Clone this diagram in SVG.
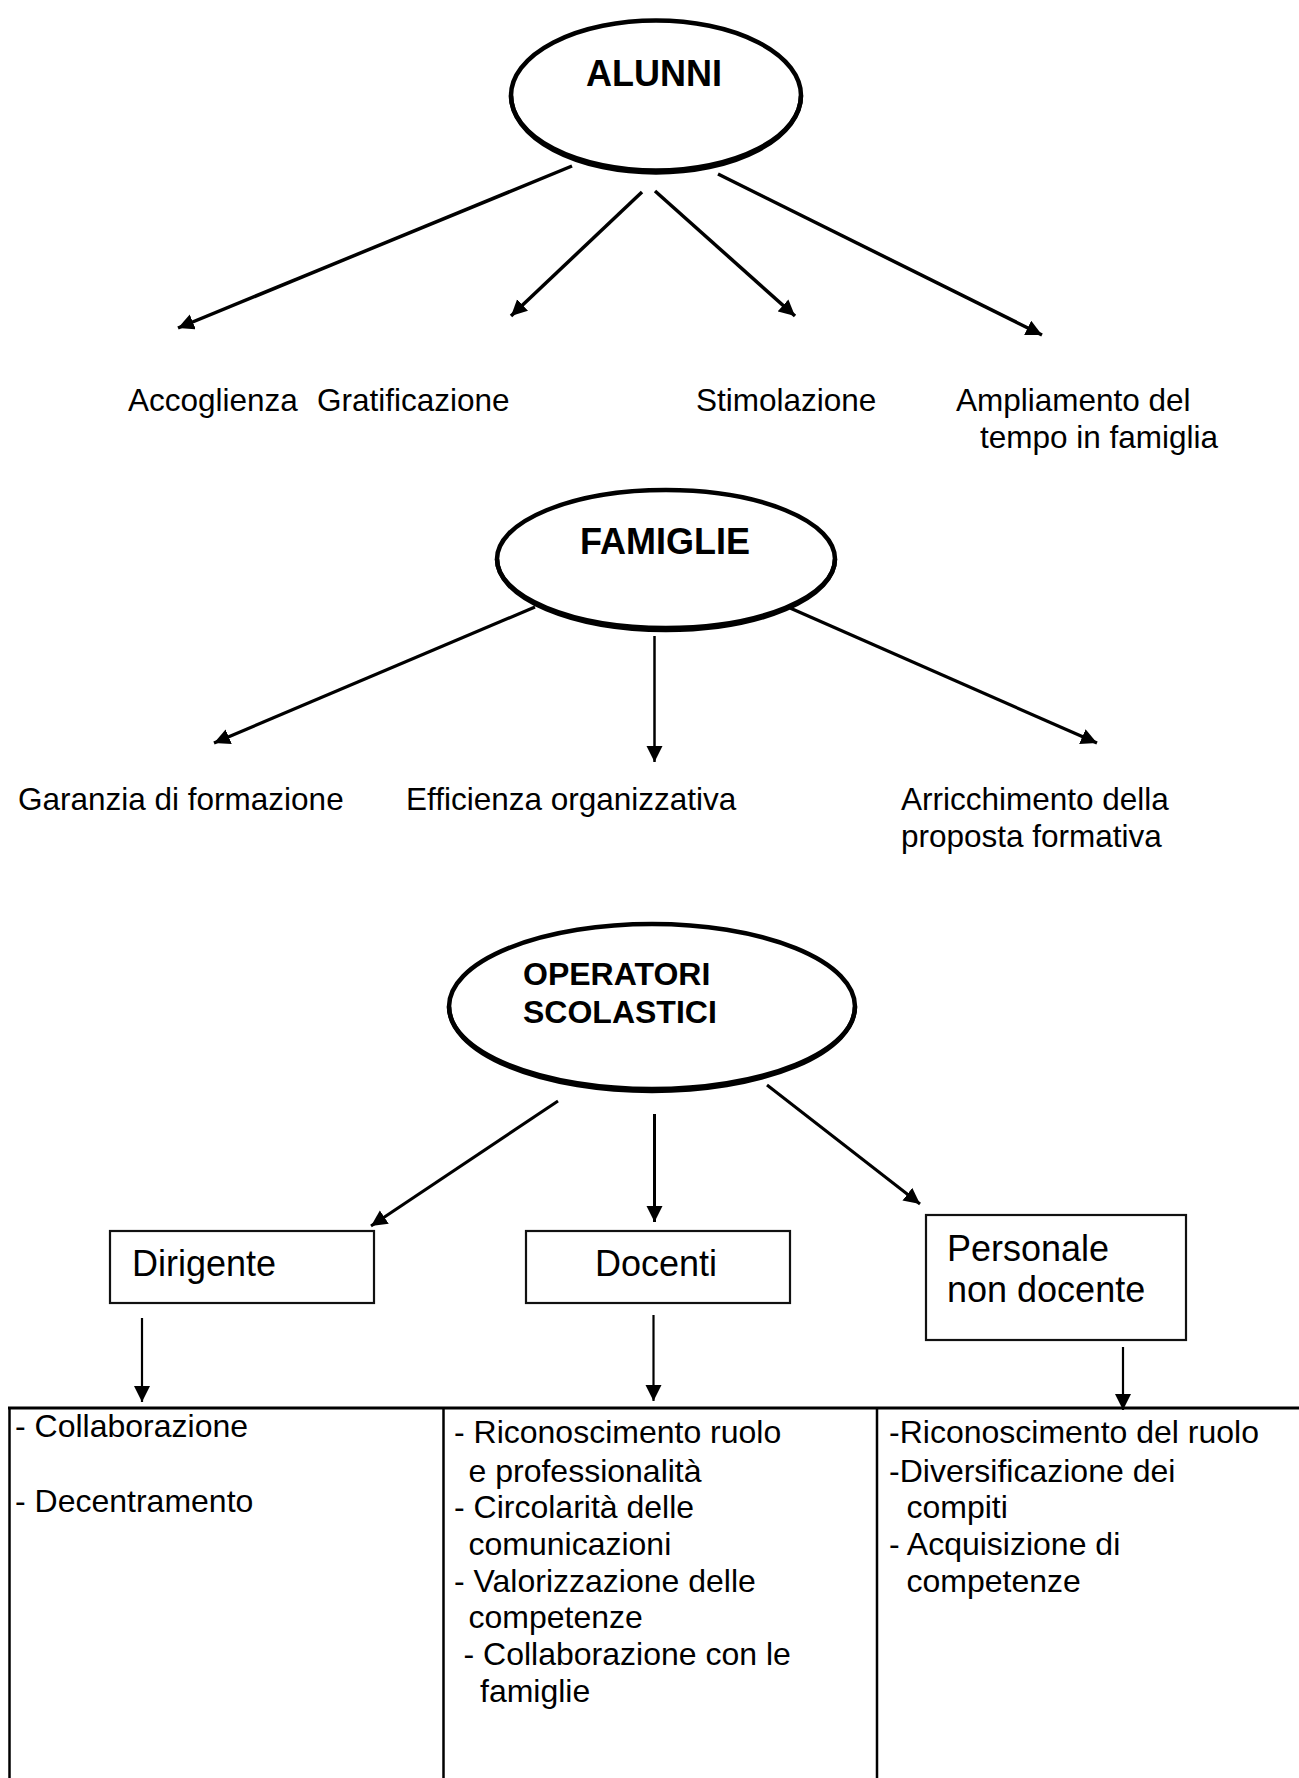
<svg xmlns="http://www.w3.org/2000/svg" width="1299" height="1778" viewBox="0 0 1299 1778">
<defs>
<marker id="ah" markerUnits="userSpaceOnUse" markerWidth="18" markerHeight="17" refX="16" refY="8" orient="auto"><path d="M0,0 L16,8 L0,16 z" fill="#000"/></marker>
<style>
.ell{fill:none;stroke:#000;stroke-width:4.5}
.ellb{fill:none;stroke:#000;stroke-width:4.5}
.title{font-family:"Liberation Sans",Arial,sans-serif;font-weight:bold;fill:#000}
.lbl{font-family:"Liberation Sans",Arial,sans-serif;font-size:31.5px;fill:#000}
.box{fill:#fff;stroke:#111;stroke-width:2.2}
.boxt{font-family:"Liberation Sans",Arial,sans-serif;font-size:36px;fill:#000}
.tbl{font-family:"Liberation Sans",Arial,sans-serif;font-size:32px;fill:#000}
.c{stroke:#000;fill:none;marker-end:url(#ah)}
.grid{stroke:#000;fill:none}
</style>
</defs>
<rect width="1299" height="1778" fill="#fff"/>

<g id="alunni">
<ellipse class="ell" cx="656" cy="95.5" rx="145" ry="75"/>
<path class="ellb" d="M511,95.5 A145,77 0 0 0 801,95.5"/>
<text class="title" x="586" y="86" font-size="36">ALUNNI</text>
</g>

<g id="alunni-labels">
<text class="lbl" x="128" y="411">Accoglienza</text>
<text class="lbl" x="317" y="411">Gratificazione</text>
<text class="lbl" x="696" y="411">Stimolazione</text>
<text class="lbl" x="956" y="411">Ampliamento del</text>
<text class="lbl" x="980" y="448">tempo in famiglia</text>
</g>

<g id="famiglie">
<ellipse class="ell" cx="666" cy="559" rx="169" ry="69"/>
<path class="ellb" d="M497,559 A169,71 0 0 0 835,559"/>
<text class="title" x="580" y="554" font-size="36">FAMIGLIE</text>
</g>

<g id="famiglie-labels">
<text class="lbl" x="18" y="810">Garanzia di formazione</text>
<text class="lbl" x="406" y="810">Efficienza organizzativa</text>
<text class="lbl" x="901" y="810">Arricchimento della</text>
<text class="lbl" x="901" y="847">proposta formativa</text>
</g>

<g id="operatori">
<ellipse class="ell" cx="652" cy="1006.5" rx="203" ry="82.5"/>
<path class="ellb" d="M449,1006.5 A203,84.5 0 0 0 855,1006.5"/>
<text class="title" x="523" y="985" font-size="32">OPERATORI</text>
<text class="title" x="523" y="1023" font-size="32">SCOLASTICI</text>
</g>

<g id="dirigente">
<rect class="box" x="110" y="1231" width="264" height="72"/>
<text class="boxt" x="132" y="1276">Dirigente</text>
</g>
<g id="docenti">
<rect class="box" x="526" y="1231" width="264" height="72"/>
<text class="boxt" x="595" y="1276">Docenti</text>
</g>
<g id="personale">
<rect class="box" x="926" y="1215" width="260" height="125"/>
<text class="boxt" x="947" y="1261" font-size="37">Personale</text>
<text class="boxt" x="947" y="1302" font-size="37">non docente</text>
</g>

<g id="connectors">
<line class="c" stroke-width="3.5" x1="572" y1="166" x2="178" y2="328"/>
<line class="c" stroke-width="3.5" x1="642" y1="192" x2="511" y2="316"/>
<line class="c" stroke-width="3.5" x1="655" y1="191" x2="795" y2="316"/>
<line class="c" stroke-width="3.5" x1="718" y1="174" x2="1042" y2="335"/>
<line class="c" stroke-width="3.2" x1="535" y1="607" x2="214" y2="743"/>
<line class="c" stroke-width="2.5" x1="654.5" y1="636" x2="654.5" y2="762"/>
<line class="c" stroke-width="3.2" x1="790" y1="608" x2="1097" y2="743"/>
<line class="c" stroke-width="3" x1="558" y1="1101" x2="371" y2="1226"/>
<line class="c" stroke-width="3" x1="654.5" y1="1114" x2="654.5" y2="1222"/>
<line class="c" stroke-width="3" x1="767" y1="1085" x2="920" y2="1204"/>
<line class="c" stroke-width="2.2" x1="142" y1="1318" x2="142" y2="1402"/>
<line class="c" stroke-width="2.2" x1="653.5" y1="1315" x2="653.5" y2="1401"/>
<line class="c" stroke-width="2.2" x1="1123" y1="1347" x2="1123" y2="1410"/>
</g>

<g id="table">
<line class="grid" stroke-width="3" x1="8" y1="1408" x2="1299" y2="1408"/>
<line class="grid" stroke-width="2.5" x1="9.5" y1="1408" x2="9.5" y2="1778"/>
<line class="grid" stroke-width="2.5" x1="443.5" y1="1408" x2="443.5" y2="1778"/>
<line class="grid" stroke-width="2.5" x1="877" y1="1408" x2="877" y2="1778"/>
<text class="tbl" x="15" y="1437">- Collaborazione</text>
<text class="tbl" x="15" y="1512">- Decentramento</text>
<text class="tbl" x="454" y="1443">- Riconoscimento ruolo</text>
<text class="tbl" x="468.5" y="1482">e professionalità</text>
<text class="tbl" x="454" y="1518">- Circolarità delle</text>
<text class="tbl" x="468.5" y="1555">comunicazioni</text>
<text class="tbl" x="454" y="1592">- Valorizzazione delle</text>
<text class="tbl" x="468.5" y="1628">competenze</text>
<text class="tbl" x="463.5" y="1665">- Collaborazione con le</text>
<text class="tbl" x="480" y="1702">famiglie</text>
<text class="tbl" x="889" y="1443">-Riconoscimento del ruolo</text>
<text class="tbl" x="889" y="1482">-Diversificazione dei</text>
<text class="tbl" x="906.5" y="1518">compiti</text>
<text class="tbl" x="889" y="1555">- Acquisizione di</text>
<text class="tbl" x="906.5" y="1592">competenze</text>
</g>
</svg>
